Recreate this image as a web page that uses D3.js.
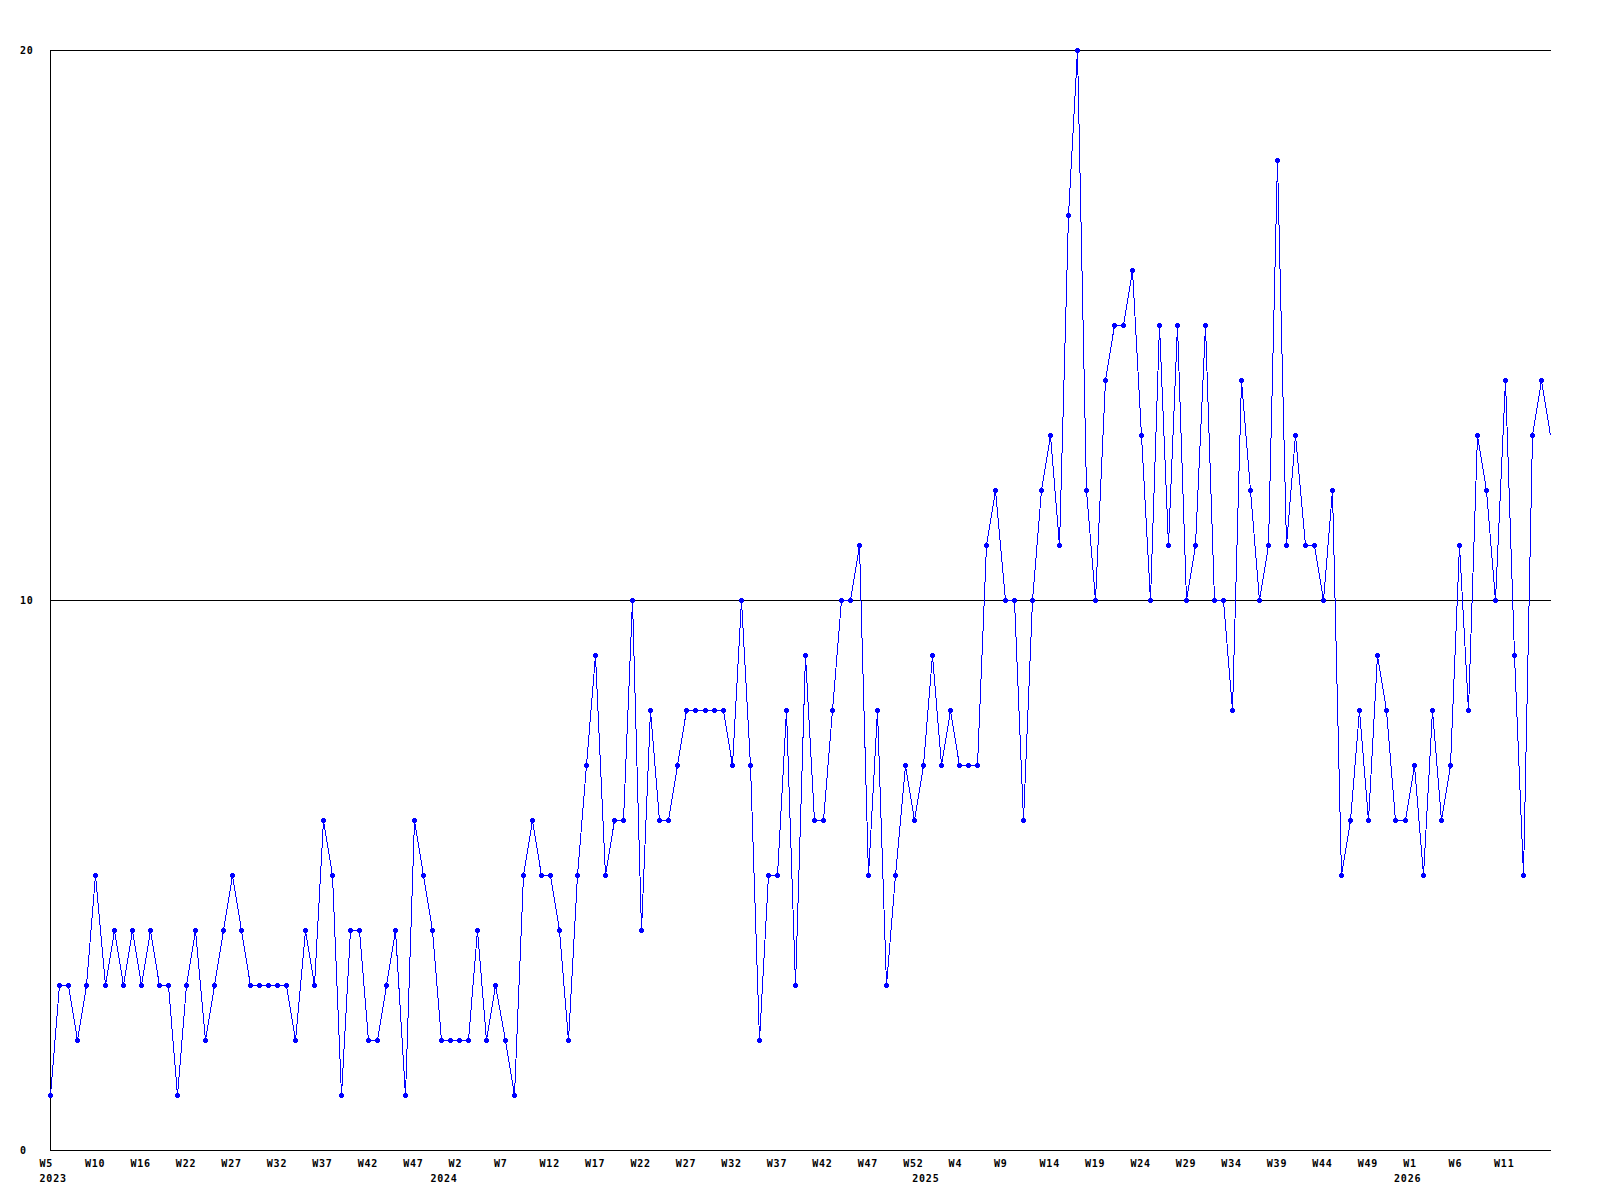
<!DOCTYPE html>
<html>
<head>
<meta charset="utf-8">
<script src="https://cdn.jsdelivr.net/npm/d3@7"></script>
<style>
  body { margin: 0; background: #fff; }
  svg text { font-family: "DejaVu Sans Mono", monospace; font-weight: bold; font-size: 10px; letter-spacing: 0.8px; fill: #000; }
</style>
</head>
<body>
<div id="chart"></div>
<script>
// weekly counts, W5 2023 .. 2026
var counts = [
  1, 3, 3, 2, 3, 5, 3, 4, 3, 4, 3, 4, 3, 3, 1, 3, 4, 2, 3, 4,
  5, 4, 3, 3, 3, 3, 3, 2, 4, 3, 6, 5, 1, 4, 4, 2, 2, 3, 4, 1,
  6, 5, 4, 2, 2, 2, 2, 4, 2, 3, 2, 1, 5, 6, 5, 5, 4, 2, 5, 7,
  9, 5, 6, 6, 10, 4, 8, 6, 6, 7, 8, 8, 8, 8, 8, 7, 10, 7, 2, 5,
  5, 8, 3, 9, 6, 6, 8, 10, 10, 11, 5, 8, 3, 5, 7, 6, 7, 9, 7, 8,
  7, 7, 7, 11, 12, 10, 10, 6, 10, 12, 13, 11, 17, 20, 12, 10, 14, 15, 15, 16,
  13, 10, 15, 11, 15, 10, 11, 15, 10, 10, 8, 14, 12, 10, 11, 18, 11, 13, 11, 11,
  10, 12, 5, 6, 8, 6, 9, 8, 6, 6, 7, 5, 8, 6, 7, 11, 8, 13, 12, 10,
  14, 9, 5, 13, 14, 13
];

// x labels, one every 5th point
var weekLabels = ["W5", "W10", "W16", "W22", "W27", "W32", "W37", "W42", "W47",
  "W2", "W7", "W12", "W17", "W22", "W27", "W32", "W37", "W42", "W47", "W52",
  "W4", "W9", "W14", "W19", "W24", "W29", "W34", "W39", "W44", "W49",
  "W1", "W6", "W11"];
var labelStep = 5;

var years = ["2023", "2024", "2025", "2026"];
var yearIndex = [0, 43, 96, 149];

var yTicks = [0, 10, 20];

var width = 1600, height = 1200;
var margin = {left: 50, right: 1550, top: 50, bottom: 1150};

var svg = d3.select("#chart")
  .append("svg")
    .attr("width", width)
    .attr("height", height);

var x = d3.scaleLinear()
  .domain([0, counts.length - 1])
  .range([margin.left, margin.right]);

var y = d3.scaleLinear()
  .domain([0, 20])
  .range([margin.bottom, margin.top]);

// grid lines at 10 and 20
svg.selectAll("line.grid")
  .data(yTicks.filter(function(d) { return d > 0; }))
  .enter()
  .append("line")
    .attr("class", "grid")
    .attr("x1", margin.left)
    .attr("x2", margin.right + 1)
    .attr("y1", function(d) { return Math.round(y(d)) + 0.5; })
    .attr("y2", function(d) { return Math.round(y(d)) + 0.5; })
    .attr("stroke", "#000")
    .attr("shape-rendering", "crispEdges");

// axes lines
svg.append("line")
  .attr("x1", margin.left + 0.5).attr("x2", margin.left + 0.5)
  .attr("y1", margin.top).attr("y2", margin.bottom + 1)
  .attr("stroke", "#000")
  .attr("shape-rendering", "crispEdges");

svg.append("line")
  .attr("x1", margin.left).attr("x2", margin.right + 1)
  .attr("y1", margin.bottom + 0.5).attr("y2", margin.bottom + 0.5)
  .attr("stroke", "#000")
  .attr("shape-rendering", "crispEdges");

// y labels
svg.selectAll("text.ylab")
  .data(yTicks)
  .enter()
  .append("text")
    .attr("class", "ylab")
    .attr("x", 20)
    .attr("y", function(d) { return y(d) + 3.5; })
    .text(function(d) { return d; });

// x labels
svg.selectAll("text.xlab")
  .data(weekLabels)
  .enter()
  .append("text")
    .attr("class", "xlab")
    .attr("x", function(d, i) { return x(i * labelStep) - 10.5; })
    .attr("y", 1166.5)
    .text(function(d) { return d; });

svg.selectAll("text.year")
  .data(years)
  .enter()
  .append("text")
    .attr("class", "year")
    .attr("x", function(d, i) { return x(yearIndex[i]) - 10.5; })
    .attr("y", 1181.5)
    .text(function(d) { return d; });

// the line
var line = d3.line()
  .x(function(d, i) { return Math.round(x(i)) + 0.5; })
  .y(function(d) { return Math.round(y(d)) + 0.5; });

svg.append("path")
  .datum(counts)
  .attr("d", line)
  .attr("fill", "none")
  .attr("stroke", "#0000FF")
  .attr("stroke-width", 1)
  .attr("shape-rendering", "crispEdges");

// small plus markers (last point has none)
var marker = "M-1,-2H2V-1H3V2H2V3H-1V2H-2V-1H-1Z";
svg.selectAll("path.mark")
  .data(counts.slice(0, -1))
  .enter()
  .append("path")
    .attr("class", "mark")
    .attr("d", marker)
    .attr("transform", function(d, i) {
      return "translate(" + Math.round(x(i)) + "," + Math.round(y(d)) + ")";
    })
    .attr("fill", "#0000FF")
    .attr("shape-rendering", "crispEdges");
</script>
</body>
</html>
